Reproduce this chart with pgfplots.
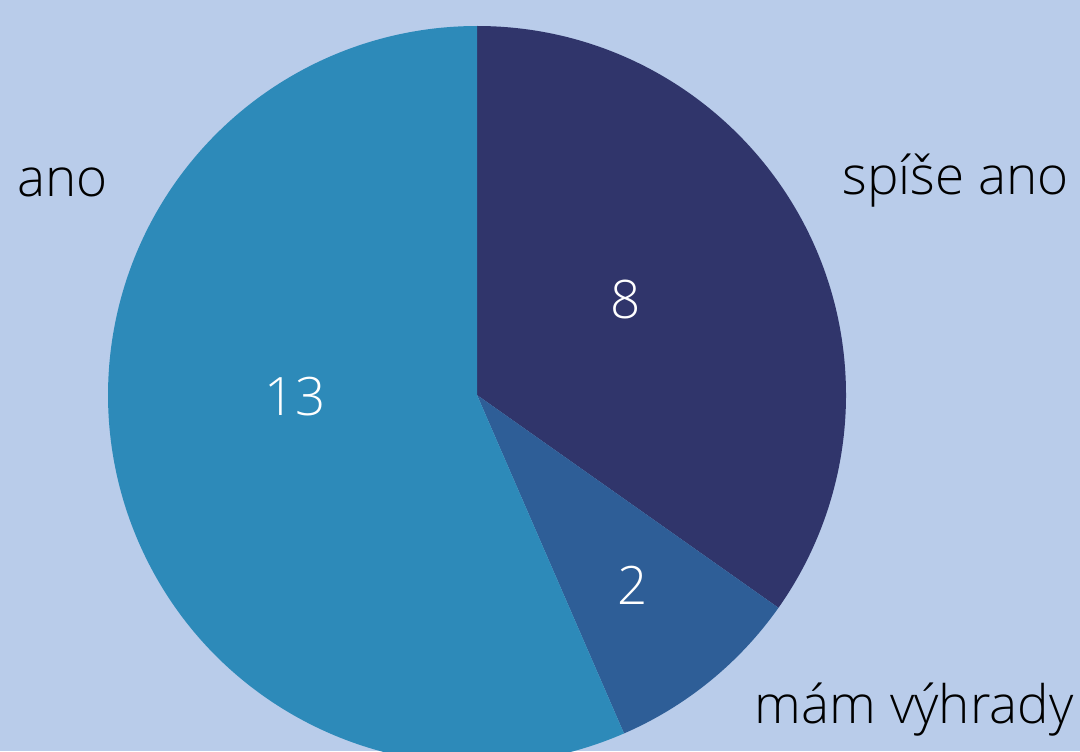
\documentclass[border=0pt]{standalone}
\usepackage{fontspec}
\setmainfont{Open Sans}[UprightFont={* Light}]
\usepackage{pgfplots}
\usepackage{pgfplotstable}
\pgfplotsset{compat=1.18}
\definecolor{bg}{HTML}{B9CCEA}
\definecolor{cA}{HTML}{30356B}
\definecolor{cB}{HTML}{2E5E97}
\definecolor{cC}{HTML}{2D8AB9}
\pgfplotstableread[col sep=comma]{
label,value,px,py
spíše ano,8,626,300
mám výhrady,2,633,585
ano,13,295,397
}\piedata
\pgfplotstablegetelem{0}{value}\of\piedata \let\va\pgfplotsretval
\pgfplotstablegetelem{1}{value}\of\piedata \let\vb\pgfplotsretval
\pgfplotstablegetelem{2}{value}\of\piedata \let\vc\pgfplotsretval
\pgfmathsetmacro\total{\va+\vb+\vc}
\pgfmathsetmacro\aA{90-360*\va/\total}
\pgfmathsetmacro\aB{\aA-360*\vb/\total}
\pgfmathsetmacro\aC{\aB-360*\vc/\total}
\newcommand\lblfont{\fontsize{26.5}{30}\selectfont}
\begin{document}%
\begin{tikzpicture}
\begin{axis}[
  x=0.5pt, y=0.5pt, scale only axis,
  xmin=0, xmax=1080, ymin=0, ymax=751,
  hide axis,
]
\fill[bg] (axis cs:0,0) rectangle (axis cs:1080,751);
\fill[cA] (axis cs:477,356) -- ++(90:184.5pt) arc[start angle=90, end angle=\aA, radius=184.5pt] -- cycle;
\fill[cB] (axis cs:477,356) -- ++(\aA:184.5pt) arc[start angle=\aA, end angle=\aB, radius=184.5pt] -- cycle;
\fill[cC] (axis cs:477,356) -- ++(\aB:184.5pt) arc[start angle=\aB, end angle=\aC, radius=184.5pt] -- cycle;
\addplot[draw=none, mark=none, nodes near coords, point meta=explicit symbolic,
  nodes near coords style={anchor=center, text=white, font=\lblfont}]
  table[x=px, y expr=751-\thisrow{py}, meta=value, col sep=comma] {\piedata};
\node[anchor=base west, font=\lblfont, inner sep=0pt] at (axis cs:17,554) {ano};
\node[anchor=base east, font=\lblfont, inner sep=0pt] at (axis cs:1069,556) {spíše ano};
\node[anchor=base east, font=\lblfont, inner sep=0pt] at (axis cs:1074,28) {mám výhrady};
\end{axis}
\pgfresetboundingbox
\path[use as bounding box] (current axis.south west) rectangle (current axis.north east);
\end{tikzpicture}%
\end{document}
